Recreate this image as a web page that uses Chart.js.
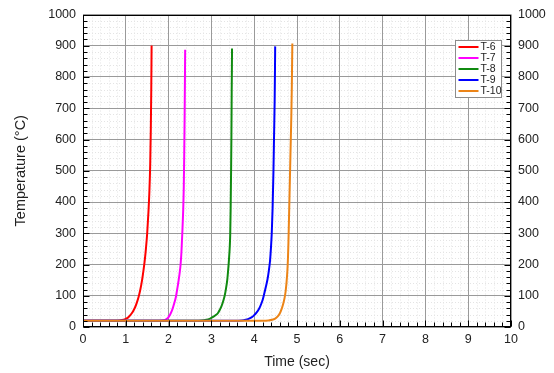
<!DOCTYPE html>
<html>
<head>
<meta charset="utf-8">
<script src="https://cdn.jsdelivr.net/npm/chart.js@4/dist/chart.umd.min.js"></script>
<style>
  html, body { margin: 0; padding: 0; background: #fff; }
  canvas { display: block; }
</style>
</head>
<body>
<canvas id="c" width="554" height="373"></canvas>
<script>
// Heating curves: temperature vs time for five thermocouples
const seriesNames = ['T-6', 'T-7', 'T-8', 'T-9', 'T-10'];

const t6Time = [0, 0.6, 0.86, 0.95, 1.00, 1.05, 1.10, 1.14, 1.18, 1.22, 1.26, 1.30, 1.34, 1.38, 1.41, 1.44, 1.47, 1.50, 1.53, 1.55, 1.57, 1.585, 1.595, 1.603];
const t6Temp = [20, 20, 21, 23, 26, 30, 37, 44, 53, 64, 79, 97, 120, 150, 178, 210, 250, 300, 370, 430, 520, 640, 760, 901];

const t7Time = [0, 1.5, 1.84, 1.92, 1.97, 2.01, 2.05, 2.09, 2.13, 2.17, 2.20, 2.23, 2.26, 2.28, 2.30, 2.32, 2.34, 2.355, 2.365, 2.375, 2.382, 2.387];
const t7Temp = [20, 20, 21, 23, 27, 34, 44, 57, 75, 96, 120, 145, 175, 200, 240, 300, 370, 450, 550, 680, 800, 887];

const t8Time = [0, 2.4, 2.77, 2.88, 2.97, 3.05, 3.11, 3.15, 3.20, 3.24, 3.28, 3.31, 3.34, 3.37, 3.39, 3.41, 3.43, 3.44, 3.45, 3.46, 3.468, 3.474, 3.479, 3.482];
const t8Temp = [20, 20, 21, 23, 27, 33, 39, 44, 56, 68, 85, 100, 122, 150, 180, 215, 260, 298, 380, 500, 620, 750, 830, 891];

const t9Time = [0, 3.3, 3.71, 3.80, 3.88, 3.96, 4.00, 4.04, 4.09, 4.13, 4.17, 4.20, 4.23, 4.27, 4.31, 4.34, 4.37, 4.39, 4.41, 4.43, 4.45, 4.465, 4.478, 4.486, 4.49];
const t9Temp = [20, 20, 21, 23, 27, 33, 38, 44, 53, 63, 76, 88, 104, 127, 152, 178, 212, 250, 300, 380, 500, 620, 723, 830, 898];

const t10Time = [0, 4.0, 4.33, 4.42, 4.49, 4.55, 4.60, 4.64, 4.68, 4.71, 4.735, 4.755, 4.775, 4.79, 4.80, 4.81, 4.825, 4.84, 4.855, 4.868, 4.878, 4.886, 4.891];
const t10Temp = [20, 20, 21, 23, 27, 34, 44, 57, 75, 93, 115, 142, 180, 225, 270, 330, 420, 510, 600, 680, 760, 850, 907];

const timeTicks = [0, 1, 2, 3, 4, 5, 6, 7, 8, 9, 10];
const tempTicks = [0, 100, 200, 300, 400, 500, 600, 700, 800, 900, 1000];

const allTimes = [t6Time, t7Time, t8Time, t9Time, t10Time];
const allTemps = [t6Temp, t7Temp, t8Temp, t9Temp, t10Temp];
const lineColors = ['#ff0000', '#ff00ff', '#108a10', '#0000ff', '#ec8417'];

const FONT = "'Liberation Sans', Arial, Helvetica, sans-serif";

const datasets = seriesNames.map((name, i) => ({
  label: name,
  data: allTimes[i].map((t, k) => ({ x: t, y: allTemps[i][k] })),
  borderColor: lineColors[i],
  backgroundColor: lineColors[i],
  borderWidth: 2,
  pointRadius: 0,
  cubicInterpolationMode: 'monotone',
  fill: false,
  // later series are painted over earlier ones
  order: seriesNames.length - i
}));

// Faint dotted minor grid, painted before the major grid and the curves
const minorGrid = {
  id: 'minorGrid',
  beforeDraw(chart) {
    const { ctx, chartArea: a, scales: { x, y } } = chart;
    ctx.save();
    ctx.strokeStyle = '#e4e4e4';
    ctx.lineWidth = 1;
    ctx.setLineDash([1, 2]);
    for (let v = 0; v <= 10.001; v += 0.2) {
      if (Math.abs(v - Math.round(v)) < 1e-6) continue;
      const px = Math.round(x.getPixelForValue(v)) + 0.5;
      ctx.beginPath(); ctx.moveTo(px, a.top); ctx.lineTo(px, a.bottom); ctx.stroke();
    }
    for (let v = 0; v <= 1000; v += 20) {
      if (v % 100 === 0) continue;
      const py = Math.round(y.getPixelForValue(v)) + 0.5;
      ctx.beginPath(); ctx.moveTo(a.left, py); ctx.lineTo(a.right, py); ctx.stroke();
    }
    ctx.restore();
  }
};

// Plot frame, inward tick marks and the boxed legend
const frameAndLegend = {
  id: 'frameAndLegend',
  afterDatasetsDraw(chart) {
    const { ctx, chartArea: a, scales: { x, y } } = chart;
    ctx.save();
    ctx.strokeStyle = '#000';
    ctx.lineWidth = 1;
    ctx.setLineDash([]);
    const L = Math.round(a.left) + 0.5, R = Math.round(a.right) - 0.5;
    const T = Math.round(a.top) + 0.5, B = Math.round(a.bottom) - 0.5;
    ctx.strokeRect(L, T, R - L, B - T);

    ctx.beginPath();
    for (let v = 0; v <= 10.001; v += 0.2) {
      const major = Math.abs(v - Math.round(v)) < 1e-6;
      const len = major ? 6 : 4;
      const px = Math.round(x.getPixelForValue(v)) + 0.5;
      ctx.moveTo(px, B); ctx.lineTo(px, B - len);
    }
    for (let v = 0; v <= 1000; v += 20) {
      const len = v % 100 === 0 ? 6 : 4;
      const py = Math.round(y.getPixelForValue(v)) + 0.5;
      ctx.moveTo(L, py); ctx.lineTo(L + len, py);
      ctx.moveTo(R, py); ctx.lineTo(R - len, py);
    }
    ctx.stroke();

    // legend box
    const ds = chart.data.datasets;
    const bx = Math.round(a.right) - 55.5, by = Math.round(a.top) + 25.5;
    const bw = 46, bh = 57;
    ctx.fillStyle = '#fff';
    ctx.fillRect(bx, by, bw, bh);
    ctx.strokeStyle = '#8c8c8c';
    ctx.strokeRect(bx, by, bw, bh);
    ctx.font = '10.5px ' + FONT;
    ctx.textBaseline = 'middle';
    ctx.textAlign = 'left';
    ds.forEach((d, i) => {
      const ry = by + 6.5 + i * 11;
      ctx.strokeStyle = d.borderColor;
      ctx.lineWidth = 2;
      ctx.beginPath(); ctx.moveTo(bx + 3, ry); ctx.lineTo(bx + 23, ry); ctx.stroke();
      ctx.fillStyle = '#222';
      ctx.fillText(d.label, bx + 25, ry + 0.5);
    });
    ctx.restore();
  }
};

const plainLabel = v => String(v);

new Chart(document.getElementById('c'), {
  type: 'line',
  data: { datasets },
  options: {
    responsive: false,
    animation: false,
    devicePixelRatio: 1,
    layout: { padding: { top: 13, left: 0, right: 0, bottom: 0 } },
    plugins: { legend: { display: false }, tooltip: { enabled: false } },
    scales: {
      x: {
        type: 'linear',
        min: timeTicks[0],
        max: timeTicks[timeTicks.length - 1],
        afterBuildTicks: s => { s.ticks = timeTicks.map(v => ({ value: v })); },
        ticks: { color: '#222', font: { family: FONT, size: 12.5 }, padding: 5, callback: plainLabel },
        grid: { color: '#9a9a9a', lineWidth: 1, drawTicks: false },
        border: { display: false },
        title: { display: true, text: 'Time (sec)', color: '#222', font: { family: FONT, size: 14 }, padding: { top: 0, bottom: 2 } },
        afterFit: s => { s.height = 46; }
      },
      y: {
        type: 'linear',
        position: 'left',
        min: tempTicks[0],
        max: tempTicks[tempTicks.length - 1],
        afterBuildTicks: s => { s.ticks = tempTicks.map(v => ({ value: v })); },
        ticks: { color: '#222', font: { family: FONT, size: 12.5 }, padding: 7, callback: plainLabel },
        grid: { color: '#9a9a9a', lineWidth: 1, drawTicks: false },
        border: { display: false },
        title: { display: true, text: 'Temperature (°C)', color: '#222', font: { family: FONT, size: 14.5 }, padding: { top: 12, bottom: 0 } },
        afterFit: s => { s.width = 83; }
      },
      y2: {
        type: 'linear',
        position: 'right',
        min: tempTicks[0],
        max: tempTicks[tempTicks.length - 1],
        afterBuildTicks: s => { s.ticks = tempTicks.map(v => ({ value: v })); },
        ticks: { color: '#222', font: { family: FONT, size: 12.5 }, padding: 7, callback: plainLabel },
        grid: { display: false, drawTicks: false },
        border: { display: false },
        afterFit: s => { s.width = 43; }
      }
    }
  },
  plugins: [minorGrid, frameAndLegend]
});
</script>
</body>
</html>
